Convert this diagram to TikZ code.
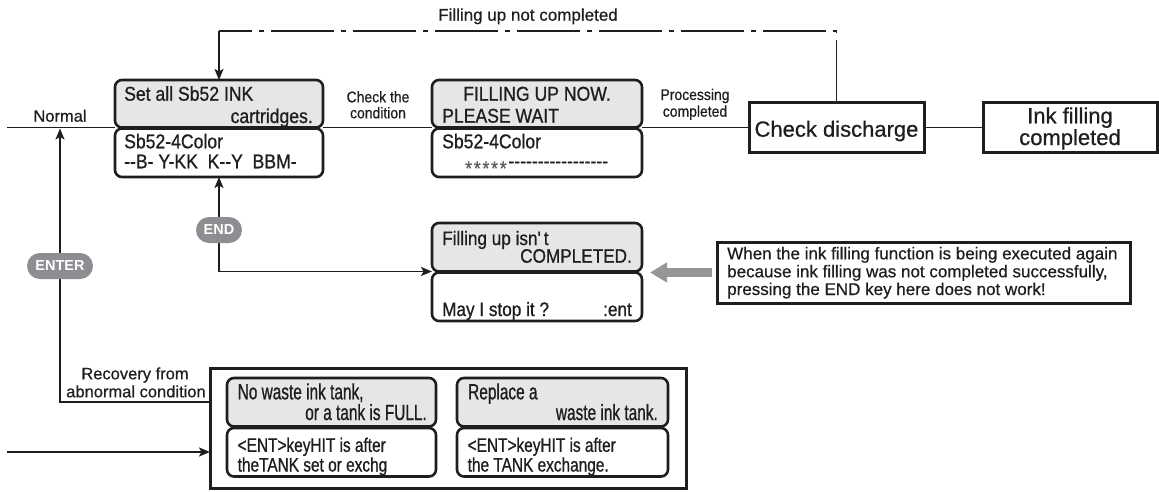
\documentclass[tikz,border=0pt]{standalone}
\usepackage{fontspec}
\setmainfont{Liberation Sans}[FakeBold=0.6]
\newfontfamily\lcdfont[FakeStretch=0.88,FakeBold=0.8]{Liberation Sans}
\newfontfamily\lcdnarrow[FakeStretch=0.7,FakeBold=0.8]{Liberation Sans}
\newfontfamily\lcdnarrowb[FakeStretch=0.79,FakeBold=0.8]{Liberation Sans}
\newfontfamily\labfont[FakeStretch=0.9,FakeBold=0.6]{Liberation Sans}
\newfontfamily\pillfont{Liberation Sans Bold}
\usetikzlibrary{arrows.meta}
\definecolor{lcdgray}{RGB}{230,230,230}
\definecolor{pillgray}{RGB}{142,142,146}
\definecolor{bigarrow}{RGB}{150,150,150}
\definecolor{ink}{RGB}{30,30,30}
\newcommand\lcdhy{-\kern0pt}
\newcommand\lcdstar{\raisebox{-7.5pt}{*}\kern1.8pt}
\begin{document}
\begin{tikzpicture}[x=1pt,y=-1pt,
  lcdtop/.style={draw=ink, line width=2.6pt, fill=lcdgray, rounded corners=7pt, inner sep=0pt, outer sep=0pt},
  lcdbot/.style={draw=ink, line width=2.6pt, fill=white, rounded corners=7pt, inner sep=0pt, outer sep=0pt},
  plainbox/.style={draw=ink, line width=3pt, fill=white, inner sep=0pt, outer sep=0pt},
  conn/.style={draw=ink, line width=1.8pt},
  tip/.tip={Stealth[length=11pt,width=9pt,inset=2.5pt]},
  arr/.style={conn, -tip},
  pill/.style={fill=pillgray, text=white, rounded corners=13pt, minimum height=26pt, inner sep=0pt,
    font=\pillfont\fontsize{14.5}{14.5}\selectfont},
  lcdtxt/.style={inner sep=0pt, text=ink, font=\lcdfont\fontsize{20}{22}\selectfont},
  lcdmid/.style={inner sep=0pt, text=ink, font=\lcdfont\fontsize{19.5}{22}\selectfont},
  lcdsmall/.style={inner sep=0pt, text=ink, font=\lcdnarrow\fontsize{22}{24}\selectfont},
  lcdsmallb/.style={inner sep=0pt, text=ink, font=\lcdnarrowb\fontsize{19.5}{21}\selectfont},
  lab/.style={inner sep=0pt, text=ink, font=\fontsize{16.5}{18}\selectfont},
  labc/.style={inner sep=0pt, text=ink, font=\labfont\fontsize{15.5}{17}\selectfont},
  bigtxt/.style={inner sep=0pt, text=ink, font=\fontsize{22}{24}\selectfont},
  notetxt/.style={inner sep=0pt, text=ink, font=\fontsize{17}{18}\selectfont}
]
\useasboundingbox (0,0) rectangle (1159,491);

% ---- boxes ----
\node[lcdtop, minimum width=208pt, minimum height=47.5pt] (b1t) at (219,103.75) {};
\node[lcdbot, minimum width=208pt, minimum height=48.5pt] (b1b) at (219,152.75) {};
\node[lcdtop, minimum width=210pt, minimum height=47.5pt] (b2t) at (537,103.75) {};
\node[lcdbot, minimum width=210pt, minimum height=48.5pt] (b2b) at (537,152.75) {};
\node[lcdtop, minimum width=210pt, minimum height=48.5pt] (b3t) at (537,247.25) {};
\node[lcdbot, minimum width=210pt, minimum height=48.5pt] (b3b) at (537,296.75) {};
\node[plainbox, minimum width=175pt, minimum height=50pt] (cd) at (836.5,127.5) {};
\node[plainbox, minimum width=174pt, minimum height=50pt] (done) at (1070,127.5) {};
\node[plainbox, minimum width=413pt, minimum height=61pt] (note) at (923.5,272.5) {};
\node[plainbox, minimum width=476pt, minimum height=120pt] (outer) at (448,428) {};
\node[lcdtop, minimum width=209pt, minimum height=48.5pt] (b4t) at (331.5,402.25) {};
\node[lcdbot, minimum width=209pt, minimum height=48.5pt] (b4b) at (331.5,452.25) {};
\node[lcdtop, minimum width=211pt, minimum height=48.5pt] (b5t) at (562.5,402.25) {};
\node[lcdbot, minimum width=211pt, minimum height=48.5pt] (b5b) at (562.5,452.25) {};

% ---- coordinates ----
\coordinate (mainstart) at (7,127.5);
\coordinate (retR) at (836.5,31);
\coordinate (retL) at (219,31);
\coordinate (recov) at (210,402);
\coordinate (enttip) at (60,128.5);
\coordinate (inL) at (7,452);
\coordinate (gap) at (650,272.5);

% ---- connectors ----
\draw[conn] (mainstart) -- (b1t.south west);
\draw[conn] (b1t.south east) -- (b2t.south west);
\draw[conn] (b2t.south east) -- (cd.west);
\draw[conn] (cd.east) -- (done.west);
\draw[conn, dash pattern=on 63pt off 7pt on 5pt off 7pt] (cd.north) -- (retR) -- (retL);
\draw[arr] (retL) -- (b1t.north);
\draw[arr] (recov) -| (enttip);
\draw[conn, tip-tip] (b1b.south) |- (b3t.south west);
\draw[arr] (inL) -- (inL -| outer.west);
\draw[bigarrow, line width=9pt, -{Triangle[length=17pt,width=19pt]}, shorten <=5pt] (note.west) -- (gap);

% ---- pills ----
\node[pill, minimum width=66pt] (enter) at (60,266) {ENTER};
\node[pill, minimum width=46pt] (endk) at (219,230) {END};

% ---- labels ----
\node[lab, anchor=base] (tnormal) at (60,121.7) {Normal};
\node[labc, anchor=base] (tchk1) at (378,102.3) {Check the};
\node[labc, anchor=base] (tchk2) at (378,118.3) {condition};
\node[labc, anchor=base] (tproc1) at (695,100) {Processing};
\node[labc, anchor=base] (tproc2) at (695,116.7) {completed};
\node[inner sep=0pt, text=ink, font=\fontsize{17}{18}\selectfont, anchor=base] (tnot) at (528,20.7) {Filling up not completed};
\node[lab, anchor=base] (trec1) at (135,379.3) {Recovery from};
\node[lab, anchor=base] (trec2) at (136,397.3) {abnormal condition};
\node[bigtxt, anchor=base] (tcd) at (836.5,136.7) {Check discharge};
\node[bigtxt, anchor=base] (tdone1) at (1070,123.3) {Ink filling};
\node[bigtxt, anchor=base] (tdone2) at (1070,145) {completed};
\node[notetxt, anchor=base west] (tn1) at (727,259.3) {When the ink filling function is being executed again};
\node[notetxt, anchor=base west] (tn2) at (727,277.3) {because ink filling was not completed successfully,};
\node[notetxt, anchor=base west] (tn3) at (727,295) {pressing the END key here does not work!};

% ---- LCD texts ----
\node[lcdtxt, anchor=base west] (t1a) at (124,100.7) {Set all Sb52 INK};
\node[lcdtxt, anchor=base east] (t1b) at (313,123) {cartridges.};
\node[lcdtxt, anchor=base west] (t1c) at (124,148.3) {Sb52\lcdhy 4Color};
\node[lcdtxt, anchor=base west] (t1d) at (124,168.3) {\lcdhy\lcdhy B\lcdhy\ Y\lcdhy KK\ \ K\lcdhy\lcdhy Y\ \ BBM\lcdhy};

\node[lcdtxt, anchor=base] (t2a) at (537,100.7) {FILLING UP NOW.};
\node[lcdtxt, anchor=base west] (t2b) at (442,122.7) {PLEASE WAIT};
\node[lcdtxt, anchor=base west] (t2c) at (442,148.3) {Sb52\lcdhy 4Color};
\node[lcdtxt, anchor=base west] (t2d) at (465,167.7) {{\color{ink!70}\fontsize{20}{20}\selectfont\lcdstar\lcdstar\lcdstar\lcdstar\lcdstar}\lcdhy\lcdhy\lcdhy\lcdhy\lcdhy\lcdhy\lcdhy\lcdhy\lcdhy\lcdhy\lcdhy\lcdhy\lcdhy\lcdhy\lcdhy\lcdhy\lcdhy};

\node[lcdmid, anchor=base west] (t3a) at (442,245) {Filling up isn'\hspace{3pt}t};
\node[lcdmid, anchor=base east] (t3b) at (632,262.7) {COMPLETED.};
\node[lcdmid, anchor=base west] (t3c) at (442,316) {May I stop it ?};
\node[lcdmid, anchor=base east] (t3d) at (632,316) {:ent};

\node[lcdsmall, anchor=base west] (t4a) at (237.5,399.3) {No waste ink tank,};
\node[lcdsmall, anchor=base east] (t4b) at (427,420) {or a tank is FULL.};
\node[lcdsmallb, anchor=base west] (t4c) at (237.5,451.8) {<ENT>keyHIT is after};
\node[lcdsmallb, anchor=base west] (t4d) at (237.5,471.5) {theTANK set or exchg};

\node[lcdsmall, anchor=base west] (t5a) at (468,399.3) {Replace a};
\node[lcdsmall, anchor=base east] (t5b) at (658,420) {waste ink tank.};
\node[lcdsmallb, anchor=base west] (t5c) at (467.5,451.8) {<ENT>keyHIT is after};
\node[lcdsmallb, anchor=base west] (t5d) at (467.5,471.5) {the TANK exchange.};
\end{tikzpicture}
\end{document}
